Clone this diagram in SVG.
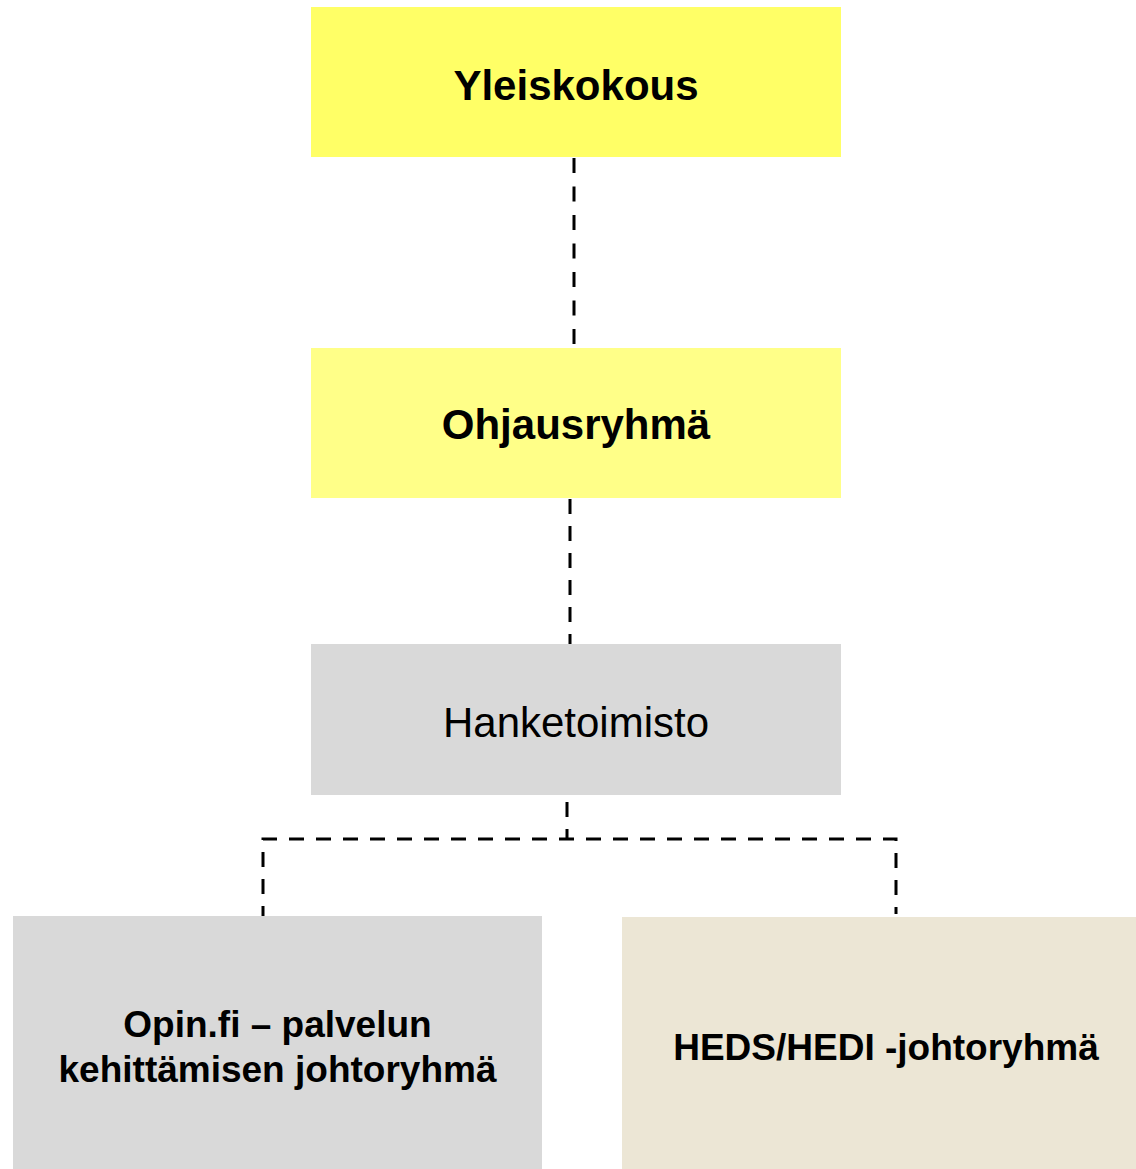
<svg xmlns="http://www.w3.org/2000/svg" width="1136" height="1169" viewBox="0 0 1136 1169">
<style>
.t{font-family:"Liberation Sans",Arial,sans-serif;fill:#000;text-anchor:middle}
.b{font-weight:bold}
.c{fill:none;stroke:#000;stroke-width:3;stroke-dasharray:15 12}
</style>
<rect width="1136" height="1169" fill="#fff"/>
<g id="connectors">
<path class="c" d="M574 158 V344" style="stroke-dasharray:15 13.5"/>
<path class="c" d="M570 499 V644"/>
<path class="c" d="M567 802 V839"/>
<path class="c" d="M263 921 V839 H896 V914"/>
</g>
<g id="yleiskokous">
<rect x="311" y="7" width="530" height="150" fill="#FFFF66"/>
<text class="t b" x="576" y="100" font-size="42">Yleiskokous</text>
</g>
<g id="ohjausryhma">
<rect x="311" y="348" width="530" height="150" fill="#FFFF88"/>
<text class="t b" x="576" y="439" font-size="42">Ohjausryhmä</text>
</g>
<g id="hanketoimisto">
<rect x="311" y="644" width="530" height="151" fill="#D9D9D9"/>
<text class="t" x="576" y="737" font-size="42">Hanketoimisto</text>
</g>
<g id="opinfi">
<rect x="13" y="916" width="529" height="253" fill="#D9D9D9"/>
<text class="t b" x="277.5" y="1037" font-size="37">Opin.fi – palvelun</text>
<text class="t b" x="277.5" y="1082" font-size="37">kehittämisen johtoryhmä</text>
</g>
<g id="heds">
<rect x="622" y="917" width="514" height="252" fill="#ECE6D5"/>
<text class="t b" x="886" y="1060" font-size="37">HEDS/HEDI -johtoryhmä</text>
</g>
</svg>
